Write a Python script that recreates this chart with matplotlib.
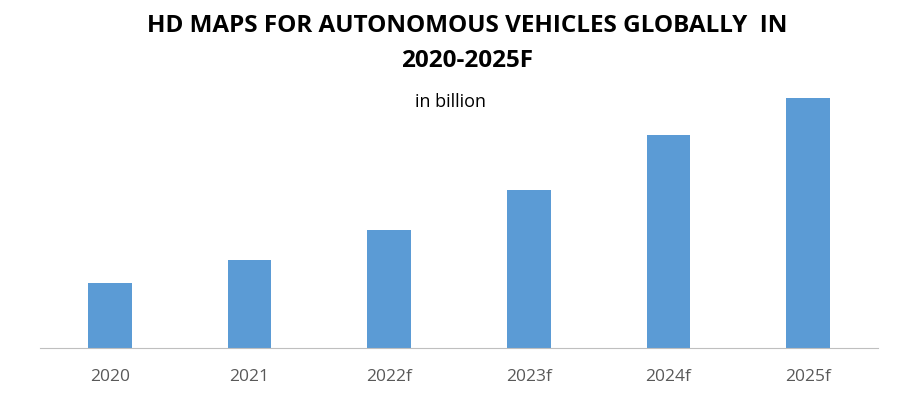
import matplotlib.pyplot as plt

# chart data (bar heights, relative units)
years = ["2020", "2021", "2022f", "2023f", "2024f", "2025f"]
values = [65, 88, 118, 158, 213, 250]

fig = plt.figure(figsize=(9, 3.95), dpi=100)
ax = fig.add_axes([40 / 900, 47 / 395, 838 / 900, 300 / 395])

ax.bar(range(len(years)), values, width=0.315, color="#5b9bd5")
ax.set_xlim(-0.5, len(years) - 0.5)
ax.set_ylim(0, 300)

for side in ["left", "right", "top"]:
    ax.spines[side].set_visible(False)
ax.spines["bottom"].set_color("#bfbfbf")
ax.spines["bottom"].set_linewidth(0.8)
ax.set_yticks([])
ax.set_xticks(range(len(years)))
ax.set_xticklabels(years, fontsize=12.5, color="#595959", family="Open Sans")
ax.tick_params(axis="x", length=0, pad=15)

fig.text(467 / 900, 1 - 26 / 395, "HD MAPS FOR AUTONOMOUS VEHICLES GLOBALLY  IN",
         ha="center", va="center", fontsize=17.5, fontweight="bold", family="Open Sans")
fig.text(467 / 900, 1 - 61 / 395, "2020-2025F",
         ha="center", va="center", fontsize=17.5, fontweight="bold", family="Open Sans")
fig.text(451 / 900, 1 - 102 / 395, "in billion",
         ha="center", va="center", fontsize=13, family="Open Sans")

fig.savefig("out.png", dpi=100)
